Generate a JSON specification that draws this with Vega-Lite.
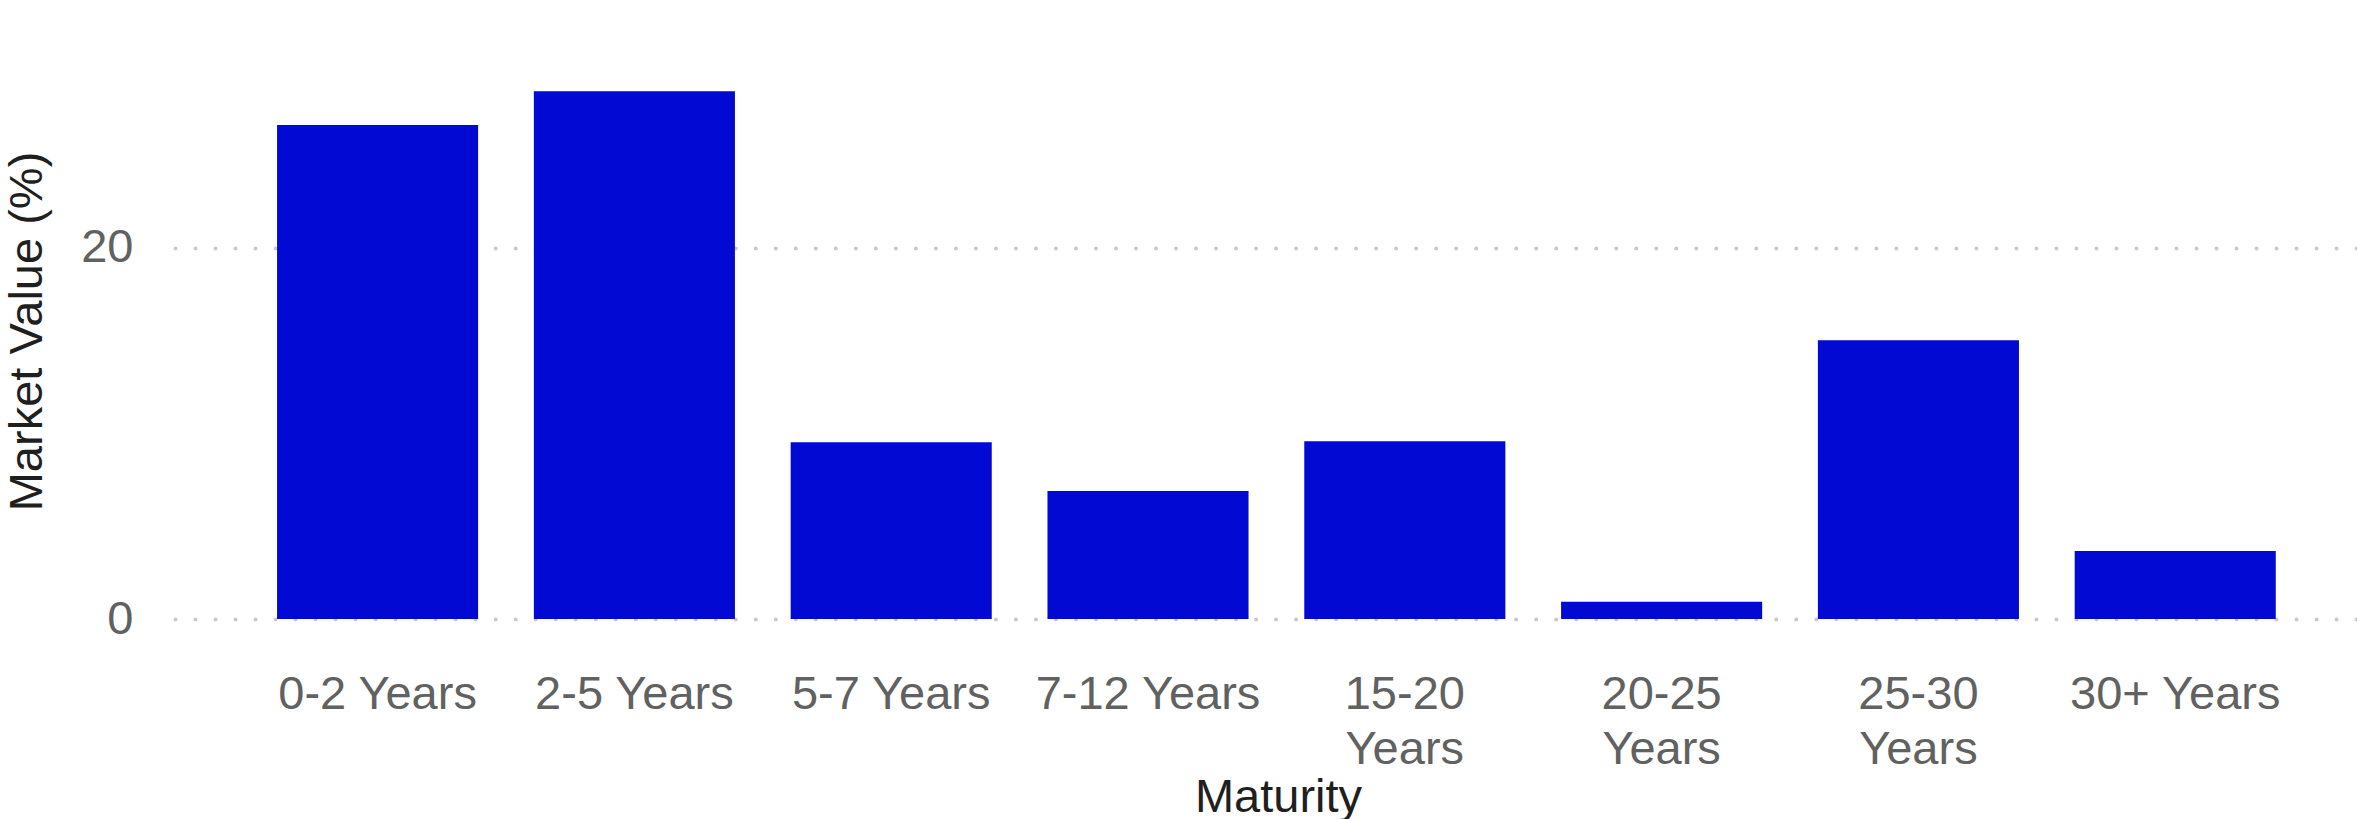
{
  "$schema": "https://vega.github.io/schema/vega-lite/v6.json",
  "width": 2188,
  "height": 628,
  "padding": {"left": 3, "top": 17, "right": 0, "bottom": 0},
  "background": "white",
  "data": {
    "values": [
      {"Maturity": "0-2 Years", "MarketValue": 26.63},
      {"Maturity": "2-5 Years", "MarketValue": 28.45},
      {"Maturity": "5-7 Years", "MarketValue": 9.53},
      {"Maturity": "7-12 Years", "MarketValue": 6.9},
      {"Maturity": "15-20 Years", "MarketValue": 9.58},
      {"Maturity": "20-25 Years", "MarketValue": 0.93},
      {"Maturity": "25-30 Years", "MarketValue": 15.02},
      {"Maturity": "30+ Years", "MarketValue": 3.67}
    ]
  },
  "mark": {"type": "bar", "color": "#0209d3"},
  "encoding": {
    "x": {
      "field": "Maturity",
      "type": "nominal",
      "sort": null,
      "title": "Maturity",
      "scale": {"paddingInner": 0.217, "paddingOuter": 0.3685, "align": 0.555},
      "axis": {
        "labelAngle": 0,
        "labelLimit": 500,
        "labelExpr": "length(datum.label) > 10 ? split(datum.label, ' ') : datum.label",
        "labelLineHeight": 55,
        "labelPadding": 26,
        "titlePadding": 2,
        "titleX": 1106,
        "ticks": false,
        "tickSize": 0,
        "domain": false,
        "grid": false
      }
    },
    "y": {
      "field": "MarketValue",
      "type": "quantitative",
      "title": "Market Value (%)",
      "scale": {"domain": [-1.4, 32.45], "nice": false, "zero": false},
      "axis": {
        "values": [0, 20],
        "ticks": false,
        "tickSize": 0,
        "domain": false,
        "grid": true,
        "gridColor": "#c9c9c9",
        "gridWidth": 4,
        "gridCap": "round",
        "gridDash": [0.01, 20],
        "gridDashOffset": -3,
        "labelPadding": 39,
        "titlePadding": 29
      }
    }
  },
  "config": {
    "font": "Liberation Sans",
    "view": {"stroke": null},
    "axis": {
      "labelFont": "Liberation Sans",
      "labelFontSize": 47,
      "labelColor": "#616161",
      "titleFont": "Liberation Sans",
      "titleFontSize": 47,
      "titleFontWeight": "normal",
      "titleColor": "#1f1f1f"
    }
  }
}
